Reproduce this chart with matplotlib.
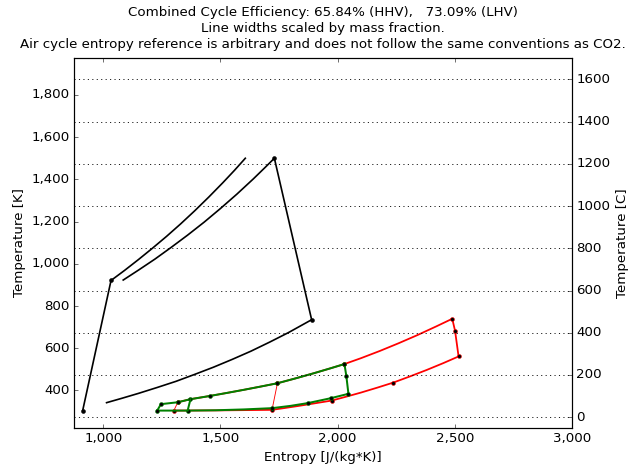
import matplotlib
matplotlib.use("Agg")
import matplotlib.pyplot as plt
from matplotlib.ticker import FuncFormatter, MultipleLocator

# Air (Brayton) cycle, entropy [J/(kg*K)] and temperature [K]
air_comp_s = [912, 1033]
air_comp_T = [304.5, 921]
air_heat1_s = [1033, 1090, 1150, 1210, 1270, 1330, 1390, 1450, 1510, 1560, 1606]
air_heat1_T = [921, 968, 1020, 1074, 1130, 1189, 1251, 1316, 1384, 1443, 1500]
air_heat2_s = [1085, 1150, 1220, 1290, 1360, 1430, 1500, 1570, 1640, 1690, 1730]
air_heat2_T = [923, 970, 1022, 1078, 1136, 1197, 1262, 1330, 1402, 1456, 1500]
air_exp_s = [1730, 1889]
air_exp_T = [1500, 735]
air_cool_s = [1889, 1790, 1710, 1630, 1550, 1470, 1390, 1310, 1230, 1150, 1080, 1014]
air_cool_T = [735, 674, 629, 586, 547, 510, 476, 443, 414, 386, 363, 342]

# CO2 recompression cycle (red)
red_s = [1318, 1372, 1456, 1530, 1600, 1670, 1743, 1820, 1900, 1970, 2029,
         2100, 2180, 2260, 2340, 2420, 2489, 2501, 2516, 2450, 2380, 2310,
         2237, 2170, 2100, 2040, 1975, 1900, 1830, 1770, 1720, 1500, 1301]
red_T = [344, 358.5, 374, 388.7, 403, 418, 434, 457, 482, 505, 525,
         553, 587, 623.5, 662, 703, 739.5, 682.5, 561, 529, 497, 467,
         437, 413.5, 390, 371.5, 352, 338.5, 326, 316, 308, 305.5, 304.5]
red_marks = [0, 6, 10, 16, 17, 18, 22, 26, 30, 32]
red_mc_s = [1301, 1318]
red_mc_T = [304.5, 344]
red_rc_s = [1720, 1743]
red_rc_T = [308, 434]

# second CO2 loop (green)
green_s = [1230, 1246, 1318, 1372, 1456, 1530, 1600, 1670, 1743, 1820, 1900,
           1970, 2029, 2037, 2046, 1970, 1873, 1800, 1720, 1600, 1480, 1360, 1230]
green_T = [304.5, 335, 344, 358.5, 374, 388.7, 403, 418, 434, 457, 482,
           505, 525, 469, 384, 363, 340, 327, 316, 310, 306, 304.5, 304.5]
green_marks = [0, 1, 2, 3, 4, 8, 12, 13, 14, 15, 16, 18, 21]
green_c2_s = [1360, 1372]
green_c2_T = [304.5, 358.5]

plt.style.use("classic")

fig = plt.figure(figsize=(637 / 80, 468 / 80), dpi=80, facecolor="white")
ax = fig.add_axes([74 / 637, 40 / 468, 498 / 637, 370 / 468])

lw_air = 1.5
ax.plot(air_comp_s, air_comp_T, "k-", lw=lw_air, marker="o", ms=3.5)
ax.plot(air_heat1_s, air_heat1_T, "k-", lw=lw_air)
ax.plot(air_heat2_s, air_heat2_T, "k-", lw=lw_air)
ax.plot(air_exp_s, air_exp_T, "k-", lw=lw_air, marker="o", ms=3.5)
ax.plot(air_cool_s, air_cool_T, "k-", lw=lw_air)

ax.plot(red_s, red_T, color="red", lw=1.6, marker="o", ms=3.5,
        markevery=red_marks, mfc="k", mec="red")
ax.plot(red_mc_s, red_mc_T, color="red", lw=0.8)
ax.plot(red_rc_s, red_rc_T, color="red", lw=0.8)

ax.plot(green_s, green_T, color="green", lw=1.8, marker="o", ms=3.5,
        markevery=green_marks, mfc="k", mec="green")
ax.plot(green_c2_s, green_c2_T, color="green", lw=1.8)

ax.set_xlim(875, 3000)
ax.set_ylim(222, 1975)
ax.xaxis.set_major_locator(MultipleLocator(500))
ax.yaxis.set_major_locator(MultipleLocator(200))
comma = FuncFormatter(lambda v, p: "{:,.0f}".format(v))
ax.xaxis.set_major_formatter(comma)
ax.yaxis.set_major_formatter(comma)
ax.set_xlabel("Entropy [J/(kg*K)]", fontsize=12)
ax.set_ylabel("Temperature [K]", fontsize=12)

ax2 = ax.twinx()
ax2.set_ylim(222 - 273.15, 1975 - 273.15)
ax2.yaxis.set_major_locator(MultipleLocator(200))
ax2.set_ylabel("Temperature [C]", fontsize=12)
ax2.grid(True, axis="y", linestyle=":", color="k", lw=0.8)

ax.set_title("Combined Cycle Efficiency: 65.84% (HHV),   73.09% (LHV)\n"
             "Line widths scaled by mass fraction.\n"
             "Air cycle entropy reference is arbitrary and does not follow the same conventions as CO2.",
             fontsize=12, linespacing=1.3, pad=9)

fig.savefig("out.png", dpi=80, facecolor="white")
